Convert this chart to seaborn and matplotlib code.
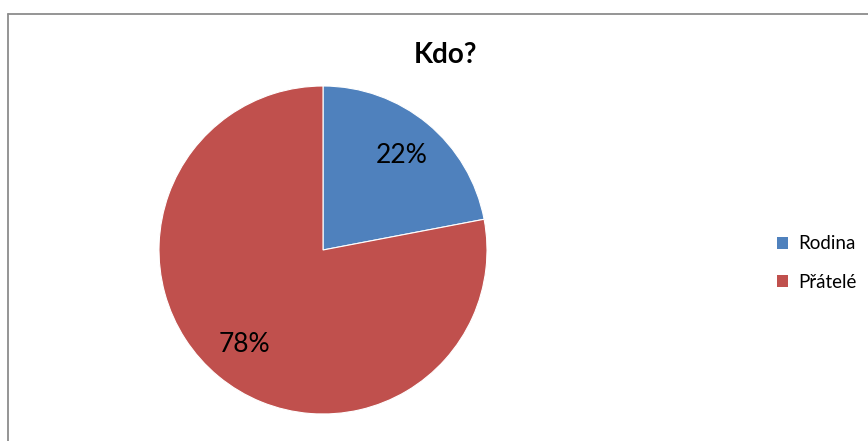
import matplotlib.pyplot as plt
import seaborn as sns
from matplotlib.patches import Patch
from matplotlib.lines import Line2D

labels = ['Rodina', 'Přátelé']
values = [22, 78]
colors = ['#4F81BD', '#C0504D']
title = 'Kdo?'

sns.set_theme(style='white')
plt.rcParams['font.family'] = ['Lato', 'DejaVu Sans']
plt.rcParams['text.color'] = 'black'

fig = plt.figure(figsize=(8.68, 4.41), dpi=100)

# chart frame (only top and left visible)
fig.add_artist(Line2D([8 / 868, 8 / 868], [0, 1 - 14 / 441], transform=fig.transFigure,
                      color='#8c8c8c', lw=1.3))
fig.add_artist(Line2D([8 / 868, 1], [1 - 14 / 441, 1 - 14 / 441], transform=fig.transFigure,
                      color='#8c8c8c', lw=1.3))

ax = fig.add_axes([159 / 868, 27 / 441, 328 / 868, 328 / 441])
wedges, texts, autotexts = ax.pie(values, colors=colors, startangle=90, counterclock=False,
                                  autopct='%1.0f%%', pctdistance=0.75,
                                  wedgeprops={'linewidth': 0.8, 'edgecolor': 'white'},
                                  textprops={'fontsize': 19, 'color': 'black'})
ax.set_aspect('equal')
ax.set_xlim(-1, 1)
ax.set_ylim(-1, 1)
ax.axis('off')

fig.text(445 / 868, 1 - 55 / 441, title, ha='center', va='center', fontsize=20,
         fontweight='bold', color='black')

handles = [Patch(facecolor=c, edgecolor='none') for c in colors]
fig.legend(handles, labels, loc='center left', bbox_to_anchor=(760 / 868, 1 - 263 / 441),
           frameon=False, fontsize=13.5, handlelength=0.6, handleheight=0.6,
           handletextpad=0.55, labelspacing=1.15)

fig.savefig('out.png', dpi=100)
